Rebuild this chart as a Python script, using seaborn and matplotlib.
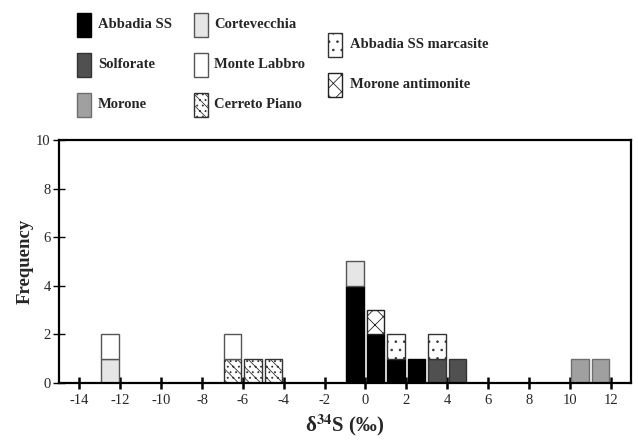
import numpy as np
import pandas as pd
import matplotlib
matplotlib.use("Agg")
import matplotlib.pyplot as plt
from matplotlib.patches import Rectangle
from matplotlib.colors import to_hex
import seaborn as sns

# ---- data: bin centres (δ34S, ‰) and counts per group ----
groups = ["Abbadia SS", "Solforate", "Morone", "Cortevecchia",
          "Cerreto Piano", "Monte Labbro", "Abbadia SS marcasite",
          "Morone antimonite"]
abbadia_x = [-0.5, 0.5, 1.5, 2.5]
abbadia_n = [4, 2, 1, 1]
solforate_x = [3.5, 4.5]
solforate_n = [1, 1]
morone_x = [10.5, 11.5]
morone_n = [1, 1]
cortevecchia_x = [-12.5, -0.5]
cortevecchia_n = [1, 1]
cerreto_x = [-6.5, -5.5, -4.5]
cerreto_n = [1, 1, 1]
montelabbro_x = [-12.5, -6.5]
montelabbro_n = [1, 1]
marcasite_x = [1.5, 3.5]
marcasite_n = [1, 1]
antimonite_x = [0.5]
antimonite_n = [1]

x_ticks = list(range(-14, 13, 2))
y_ticks = list(range(0, 11, 2))

# styles
face = {"Abbadia SS": "#000000", "Solforate": "#505050", "Morone": "#a0a0a0",
        "Cortevecchia": "#e6e6e6", "Cerreto Piano": "#ffffff",
        "Monte Labbro": "#ffffff", "Abbadia SS marcasite": "#ffffff",
        "Morone antimonite": "#ffffff"}
edge = {"Abbadia SS": "#000000", "Solforate": "#333333", "Morone": "#6e6e6e",
        "Cortevecchia": "#555555", "Cerreto Piano": "#333333",
        "Monte Labbro": "#555555", "Abbadia SS marcasite": "#333333",
        "Morone antimonite": "#222222"}
hatch = {"Cerreto Piano": "\\\\\\...", "Abbadia SS marcasite": "..",
         "Morone antimonite": "xx"}

xs = [abbadia_x, solforate_x, morone_x, cortevecchia_x, cerreto_x,
      montelabbro_x, marcasite_x, antimonite_x]
ns = [abbadia_n, solforate_n, morone_n, cortevecchia_n, cerreto_n,
      montelabbro_n, marcasite_n, antimonite_n]
rows = []
for g, xv, nv in zip(groups, xs, ns):
    for a, b in zip(xv, nv):
        rows.append({"d34S": a, "n": b, "group": g})
df = pd.DataFrame(rows)

sns.set_style("white")
plt.rcParams["font.family"] = ["Liberation Serif", "DejaVu Serif"]
plt.rcParams["mathtext.fontset"] = "stix"
plt.rcParams["hatch.linewidth"] = 0.6
plt.rcParams["axes.unicode_minus"] = False

# unique temporary colours to identify each group's bars afterwards
tmp_cols = sns.color_palette("husl", len(groups))
tmp_pal = {g: c for g, c in zip(groups, tmp_cols)}
col2group = {to_hex(c): g for g, c in tmp_pal.items()}

fig = plt.figure(figsize=(6.38, 4.44), dpi=100)
ax = fig.add_axes([59/638, 1-383/444, (631-59)/638, (383-140)/444])

# seaborn stacks the last hue level at the bottom
sns.histplot(data=df, x="d34S", weights="n", hue="group",
             hue_order=groups[::-1],
             multiple="stack", binwidth=1, binrange=(-15, 13), shrink=0.86,
             palette=tmp_pal, alpha=1, legend=False, ax=ax)

for bar in ax.patches:
    g = col2group.get(to_hex(bar.get_facecolor()[:3]))
    if g is None:
        continue
    if bar.get_height() <= 0:
        bar.set_visible(False)
        continue
    bar.set_facecolor(face[g])
    bar.set_edgecolor(edge[g])
    bar.set_linewidth(1.0)
    bar.set_alpha(1)
    if g in hatch:
        bar.set_hatch(hatch[g])

ax.set_xlim(-15, 13)
ax.set_ylim(0, 10)
ax.set_xticks(x_ticks)
ax.set_xticks(range(-15, 14), minor=True)
ax.set_yticks(y_ticks)
ax.tick_params(axis="x", which="major", direction="inout", length=8, width=1.8,
               color="black", labelsize=10.5, pad=4)
ax.tick_params(axis="x", which="minor", direction="inout", length=8, width=0.8,
               color="black")
ax.tick_params(axis="y", which="major", direction="inout", length=8, width=1.0,
               color="black", labelsize=10.5, pad=2, left=True)
ax.tick_params(axis="x", bottom=True)
for s in ax.spines.values():
    s.set_visible(True)
    s.set_color("black")
    s.set_linewidth(1.6)
ax.set_ylabel("Frequency", fontsize=13.5, fontweight="bold", labelpad=2)
ax.set_xlabel(r"δ$^{\mathbf{34}}$S (‰)", fontsize=15, fontweight="bold",
              labelpad=4)

# ---- custom legend ----
W, H = 638, 444
leg_items = [
    ("Abbadia SS", 77, 25, 98), ("Solforate", 77, 65, 98), ("Morone", 77, 105, 98),
    ("Cortevecchia", 194, 25, 214), ("Monte Labbro", 194, 65, 214),
    ("Cerreto Piano", 194, 105, 214),
    ("Abbadia SS marcasite", 328, 45, 350), ("Morone antimonite", 328, 85, 350),
]
for g, px, py, tx in leg_items:
    r = Rectangle((px/W, 1-(py+12)/H), 14/W, 24/H, transform=fig.transFigure,
                  facecolor=face[g], edgecolor=edge[g], linewidth=1.0,
                  hatch=hatch.get(g))
    fig.add_artist(r)
    fig.text(tx/W, 1-py/H, g, fontsize=10.5, fontweight="bold",
             va="center", ha="left")

fig.savefig("out.png", dpi=100)
